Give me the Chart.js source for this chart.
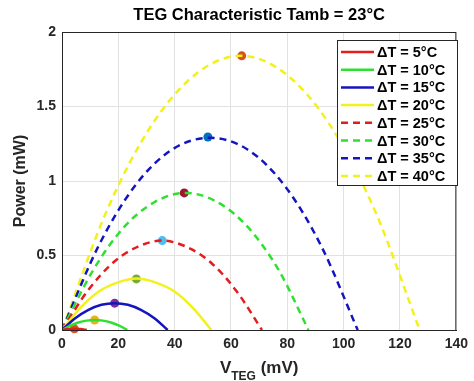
<!DOCTYPE html>
<html>
<head>
<meta charset="utf-8">
<script src="https://cdn.jsdelivr.net/npm/chart.js@4.4.1/dist/chart.umd.min.js"></script>
<style>
  html, body { margin: 0; padding: 0; background: #fff; }
  #wrap { width: 474px; height: 381px; }
</style>
</head>
<body>
<div id="wrap"><canvas id="teg-chart" width="474" height="381"></canvas></div>
<script>
// values (V in mV, P in mW)
const labels = ["ΔT = 5°C", "ΔT = 10°C", "ΔT = 15°C", "ΔT = 20°C",
                "ΔT = 25°C", "ΔT = 30°C", "ΔT = 35°C", "ΔT = 40°C"];

const v05 = [0, 1.1, 2.2, 3.3, 4.4, 5.5, 6.6, 7.7, 8.8];
const p05 = [0, 0.0035, 0.006, 0.0075, 0.008, 0.0075, 0.006, 0.0035, 0];
const v10 = [0, 2.9, 5.8, 8.7, 11.6, 14.5, 17.4, 20.3, 23.2];
const p10 = [0, 0.029, 0.05, 0.063, 0.067, 0.063, 0.05, 0.029, 0];
const v15 = [0, 4.7, 9.4, 14, 18.7, 23.4, 28, 32.8, 37.5];
const p15 = [0, 0.079, 0.135, 0.169, 0.18, 0.169, 0.135, 0.079, 0];
const v20 = [0, 6.6, 13.2, 19.9, 26.5, 33.1, 39.8, 46.4, 53];
const p20 = [0, 0.15, 0.26, 0.32, 0.345, 0.32, 0.26, 0.15, 0];
const v25 = [0, 9, 18, 27, 35.5, 44, 53, 62, 71];
const p25 = [0, 0.26, 0.45, 0.56, 0.6, 0.56, 0.45, 0.26, 0];
const v30 = [0, 11, 22, 33, 43.75, 55, 66, 77, 87.5];
const p30 = [0, 0.4, 0.69, 0.86, 0.92, 0.86, 0.69, 0.4, 0];
const v35 = [0, 13, 26, 39, 52.5, 66, 79, 92, 105];
const p35 = [0, 0.565, 0.97, 1.21, 1.29, 1.21, 0.97, 0.565, 0];
const v40 = [0, 16, 32, 48, 63.5, 79, 95, 111, 127];
const p40 = [0, 0.805, 1.38, 1.725, 1.84, 1.725, 1.38, 0.805, 0];

// maximum power points
const vMax = [4.4, 11.6, 18.7, 26.4, 35.6, 43.4, 51.8, 63.8];
const pMax = [0.008, 0.067, 0.18, 0.343, 0.6, 0.92, 1.295, 1.84];

const xTicks = [0, 20, 40, 60, 80, 100, 120, 140];
const yTicks = [0, 0.5, 1, 1.5, 2];

const curvesV = [v05, v10, v15, v20, v25, v30, v35, v40];
const curvesP = [p05, p10, p15, p20, p25, p30, p35, p40];
const lineColors = ["#E21D1D", "#30E030", "#1414C0", "#F2F21A",
                    "#E21D1D", "#30E030", "#1414C0", "#F2F21A"];
const markerColors = ["#D95319", "#EDB120", "#7E2F8E", "#77AC30",
                      "#4DBEEE", "#A2142F", "#0072BD", "#D95319"];
const DASH = [7, 5];
const FONT = "'Liberation Sans', Arial, sans-serif";
const TXT = "#262626";

const toPoints = (vs, ps) => vs.map((v, i) => ({ x: v, y: ps[i] }));

const datasets = curvesV.map((vs, i) => ({
  label: labels[i],
  data: toPoints(vs, curvesP[i]),
  borderColor: lineColors[i],
  borderWidth: 2.5,
  borderDash: i >= 4 ? DASH : [],
  pointRadius: 0,
  cubicInterpolationMode: "monotone",
  fill: false,
}));

datasets.push({
  label: "max",
  type: "scatter",
  data: toPoints(vMax, pMax),
  pointRadius: 4.5,
  pointBorderWidth: 0,
  pointBackgroundColor: markerColors,
  clip: false,
});

const decorations = {
  id: "decorations",
  afterDraw(chart) {
    const { ctx, chartArea: a } = chart;
    ctx.save();
    // box around plot
    ctx.strokeStyle = TXT;
    ctx.lineWidth = 1;
    ctx.strokeRect(a.left + 0.5, a.top + 0.5, a.right - a.left - 1, a.bottom - a.top);

    // title
    ctx.fillStyle = "#000";
    ctx.font = "bold 16.5px " + FONT;
    ctx.textAlign = "center";
    ctx.textBaseline = "middle";
    ctx.fillText("TEG Characteristic Tamb = 23°C", (a.left + a.right) / 2, 15);

    // x axis title with subscript
    ctx.fillStyle = TXT;
    ctx.textAlign = "left";
    ctx.textBaseline = "alphabetic";
    const big = "bold 17px " + FONT, small = "bold 12px " + FONT;
    ctx.font = big;
    const wV = ctx.measureText("V").width;
    const wU = ctx.measureText(" (mV)").width;
    ctx.font = small;
    const wS = ctx.measureText("TEG").width;
    let x = (a.left + a.right) / 2 - (wV + wS + wU) / 2;
    ctx.font = big;
    ctx.fillText("V", x, 373);
    x += wV;
    ctx.font = small;
    ctx.fillText("TEG", x, 380);
    x += wS;
    ctx.font = big;
    ctx.fillText(" (mV)", x, 373);

    // y axis title
    ctx.save();
    ctx.translate(21, (a.top + a.bottom) / 2);
    ctx.rotate(-Math.PI / 2);
    ctx.textAlign = "center";
    ctx.textBaseline = "middle";
    ctx.font = "bold 16px " + FONT;
    ctx.fillText("Power (mW)", 0, 0);
    ctx.restore();

    // legend inside plot
    const lx = 337, ly = 40, lw = 120, lh = 145;
    ctx.fillStyle = "#fff";
    ctx.fillRect(lx, ly, lw, lh);
    ctx.strokeStyle = TXT;
    ctx.strokeRect(lx + 0.5, ly + 0.5, lw, lh);
    ctx.font = "bold 14.5px " + FONT;
    ctx.textBaseline = "middle";
    labels.forEach((lab, i) => {
      const y = 52 + i * 17.7;
      ctx.strokeStyle = lineColors[i];
      ctx.lineWidth = 2.5;
      ctx.setLineDash(i >= 4 ? DASH : []);
      ctx.beginPath();
      ctx.moveTo(341, y);
      ctx.lineTo(374, y);
      ctx.stroke();
      ctx.setLineDash([]);
      ctx.fillStyle = "#000";
      ctx.fillText(lab, 377, y + 1);
    });
    ctx.restore();
  },
};

const tickFont = { family: FONT, size: 14, weight: "bold" };

new Chart(document.getElementById("teg-chart"), {
  type: "line",
  data: { datasets },
  options: {
    responsive: false,
    animation: false,
    layout: { padding: { left: 0, top: 32, right: 15, bottom: 0 } },
    plugins: {
      legend: { display: false },
      tooltip: { enabled: false },
    },
    scales: {
      x: {
        type: "linear",
        min: 0,
        max: 140,
        afterFit: (s) => { s.height = 51; },
        afterBuildTicks: (s) => { s.ticks = xTicks.map((v) => ({ value: v })); },
        grid: { color: "#E2E2E2", drawTicks: false },
        border: { color: TXT },
        ticks: { padding: 6, color: TXT, font: tickFont, maxRotation: 0, callback: (v) => String(v) },
      },
      y: {
        type: "linear",
        min: 0,
        max: 2,
        afterFit: (s) => { s.width = 62; },
        afterBuildTicks: (s) => { s.ticks = yTicks.map((v) => ({ value: v })); },
        grid: { color: "#E2E2E2", drawTicks: false },
        border: { color: TXT },
        ticks: { padding: 6, color: TXT, font: tickFont, callback: (v) => String(v) },
      },
    },
  },
  plugins: [decorations],
});
</script>
</body>
</html>
